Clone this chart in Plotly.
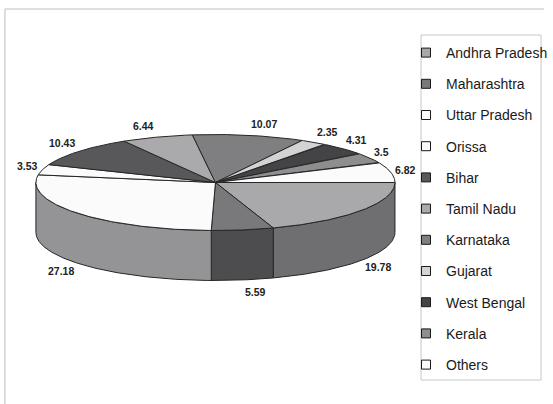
import numpy as np
import plotly.graph_objects as go

# Share of each state (%)
states = ["Andhra Pradesh", "Maharashtra", "Uttar Pradesh", "Orissa", "Bihar",
          "Tamil Nadu", "Karnataka", "Gujarat", "West Bengal", "Kerala", "Others"]
shares = [19.78, 5.59, 27.18, 3.53, 10.43, 6.44, 10.07, 2.35, 4.31, 3.5, 6.82]

# Fill colours for the top face and the visible rim of each slice
top_colors = ["#a9a9ab", "#79797b", "#fbfbfb", "#fbfbfb", "#58585a", "#aaaaac",
              "#7f7f81", "#d3d3d3", "#444446", "#8e8e90", "#fbfbfb"]
side_colors = ["#6f6f71", "#4d4d4f", "#949496", "#949496", "#38383a", "#6f6f71",
               "#525254", "#8a8a8a", "#2c2c2e", "#5c5c5e", "#949496"]

W, H = 553, 404
cx, cy = 219, 182.5      # centre of the top face
rx, ry = 182.5, 48       # ellipse radii of the tilted disc
depth = 50               # thickness of the disc
start = 90.0             # first slice starts at 3 o'clock, going clockwise
edge = "#262626"


def rim_pt(theta_deg, dy=0.0):
    t = np.radians(theta_deg)
    return cx + rx * np.sin(t), cy - ry * np.cos(t) + dy


def arc(a0, a1, dy=0.0):
    n = max(2, int(abs(a1 - a0) / 0.5) + 2)
    th = np.linspace(a0, a1, n)
    xs, ys = rim_pt(th, dy)
    return list(xs), list(ys)


fracs = np.array(shares) / sum(shares)
bounds = start + 360.0 * np.concatenate([[0], np.cumsum(fracs)])

fig = go.Figure()

# Front rim (visible between 90 and 270 degrees)
for i in range(len(states)):
    a0, a1 = bounds[i], bounds[i + 1]
    for off in (0.0, 360.0):
        s0, s1 = max(a0 - off, 90.0), min(a1 - off, 270.0)
        if s1 <= s0:
            continue
        tx, ty = arc(s0, s1)
        bx, by = arc(s1, s0, depth)
        fig.add_trace(go.Scatter(
            x=tx + bx + [tx[0]], y=ty + by + [ty[0]], mode="lines",
            fill="toself", fillcolor=side_colors[i],
            line=dict(color=edge, width=1), hoverinfo="skip", showlegend=False))

# Top faces
for i in range(len(states)):
    ax, ay = arc(bounds[i], bounds[i + 1])
    fig.add_trace(go.Scatter(
        x=[cx] + ax + [cx], y=[cy] + ay + [cy], mode="lines",
        fill="toself", fillcolor=top_colors[i],
        line=dict(color=edge, width=1), hoverinfo="skip", showlegend=False))

# Legend entries
for i, name in enumerate(states):
    fig.add_trace(go.Scatter(
        x=[None], y=[None], mode="markers", name=name, legendgroup=name,
        marker=dict(symbol="square", size=9, color=top_colors[i],
                    line=dict(color="#1a1a1a", width=1))))

# Value labels just outside each slice
annotations = []
for i, v in enumerate(shares):
    mid = np.radians((bounds[i] + bounds[i + 1]) / 2)
    s, c = np.sin(mid), np.cos(mid)
    lx = cx + 185 * s
    ly = cy - 60 * c + (depth if c < 0 else 0)
    annotations.append(dict(
        x=lx, y=ly, xref="x", yref="y", text=f"{v:g}", showarrow=False,
        xanchor="left" if s >= 0 else "right", yanchor="middle",
        font=dict(family="Liberation Sans, Arial, sans-serif", size=10.5,
                  color="#222222", weight="bold")))

shapes = [
    # chart frame
    dict(type="line", xref="x", yref="y", x0=5, y0=9, x1=W, y1=9,
         line=dict(color="#d4d4d4", width=1.5)),
    dict(type="line", xref="x", yref="y", x0=5, y0=9, x1=5, y1=H,
         line=dict(color="#d4d4d4", width=1.5)),
    # legend box
    dict(type="rect", xref="x", yref="y", x0=428, y0=35, x1=550, y1=380,
         line=dict(color="#c8c8c8", width=1)),
]

fig.update_layout(
    width=W, height=H, margin=dict(l=0, r=0, t=0, b=0),
    paper_bgcolor="white", plot_bgcolor="white",
    xaxis=dict(range=[0, W], visible=False, fixedrange=True),
    yaxis=dict(range=[H, 0], visible=False, fixedrange=True),
    annotations=annotations, shapes=shapes,
    legend=dict(x=413 / W, y=1 - 37 / H, xanchor="left", yanchor="top",
                bgcolor="rgba(0,0,0,0)", borderwidth=0,
                traceorder="grouped", tracegroupgap=10,
                font=dict(family="Liberation Sans, Arial, sans-serif",
                          size=14, color="#1a1a1a")),
    showlegend=True,
)

fig.write_html("out.html")
